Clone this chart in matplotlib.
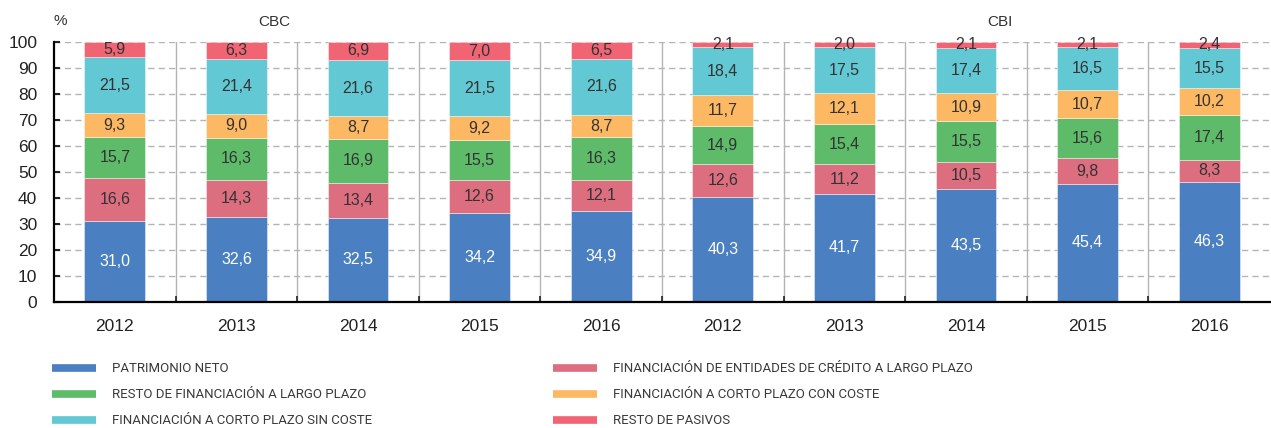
import matplotlib
matplotlib.use("Agg")
import matplotlib.pyplot as plt
from matplotlib import font_manager
from matplotlib.lines import Line2D
import numpy as np

years = ["2012", "2013", "2014", "2015", "2016", "2012", "2013", "2014", "2015", "2016"]
series_names = [
    "PATRIMONIO NETO",
    "FINANCIACIÓN DE ENTIDADES DE CRÉDITO A LARGO PLAZO",
    "RESTO DE FINANCIACIÓN A LARGO PLAZO",
    "FINANCIACIÓN A CORTO PLAZO CON COSTE",
    "FINANCIACIÓN A CORTO PLAZO SIN COSTE",
    "RESTO DE PASIVOS",
]
patrimonio_neto = [31.0, 32.6, 32.5, 34.2, 34.9, 40.3, 41.7, 43.5, 45.4, 46.3]
fin_entidades_lp = [16.6, 14.3, 13.4, 12.6, 12.1, 12.6, 11.2, 10.5, 9.8, 8.3]
resto_fin_lp = [15.7, 16.3, 16.9, 15.5, 16.3, 14.9, 15.4, 15.5, 15.6, 17.4]
fin_cp_con_coste = [9.3, 9.0, 8.7, 9.2, 8.7, 11.7, 12.1, 10.9, 10.7, 10.2]
fin_cp_sin_coste = [21.5, 21.4, 21.6, 21.5, 21.6, 18.4, 17.5, 17.4, 16.5, 15.5]
resto_pasivos = [5.9, 6.3, 6.9, 7.0, 6.5, 2.1, 2.0, 2.1, 2.1, 2.4]
group_labels = ["CBC", "CBI"]
yticks = [0, 10, 20, 30, 40, 50, 60, 70, 80, 90, 100]

series = [patrimonio_neto, fin_entidades_lp, resto_fin_lp, fin_cp_con_coste, fin_cp_sin_coste, resto_pasivos]
colors = ["#4a7fc1", "#dc6e7f", "#5dbb6a", "#fdb863", "#62c8d4", "#f06474"]
text_colors = ["white", "#333333", "#333333", "#333333", "#333333", "#333333"]

avail = {f.name for f in font_manager.fontManager.ttflist}
main_font = "Liberation Sans" if "Liberation Sans" in avail else "DejaVu Sans"
narrow_font = "Roboto" if "Roboto" in avail else main_font
plt.rcParams["font.family"] = [main_font, "DejaVu Sans"]

fig = plt.figure(figsize=(12.71, 4.28), dpi=100)
ax = fig.add_axes([54 / 1271, 1 - 302 / 428, 1216 / 1271, 260 / 428])

x = np.arange(len(years))
ax.set_xlim(-0.5, len(years) - 0.5)
ax.set_ylim(0, 100)

# gridlines
for yv in yticks[1:]:
    ax.axhline(yv, color="#b4b4b4", lw=1, ls=(0, (4.5, 3)), zorder=0)
for sep in np.arange(0.5, len(years) - 0.5, 1):
    ax.axvline(sep, color="#b4b4b4", lw=1, zorder=0)

bottom = np.zeros(len(years))
for vals, col, tcol in zip(series, colors, text_colors):
    vals = np.array(vals)
    ax.bar(x, vals, bottom=bottom, width=0.5, color=col, edgecolor=(1, 1, 1, 0.5), linewidth=0.6, zorder=2)
    for xi, v, b in zip(x, vals, bottom):
        ax.text(xi, b + v / 2, f"{v:.1f}".replace(".", ","), ha="center", va="center",
                fontsize=11.5, color=tcol, zorder=3)
    bottom += vals

for s in ["top", "right"]:
    ax.spines[s].set_visible(False)
ax.spines["left"].set_linewidth(1.6)
ax.spines["bottom"].set_linewidth(1.6)

ax.set_yticks(yticks)
ax.set_yticklabels([str(v) for v in yticks])
ax.tick_params(axis="y", direction="in", length=4, width=1.5, labelsize=12.5, pad=12, colors="#222222")
ax.set_xticks(x)
ax.set_xticklabels(years)
ax.tick_params(axis="x", which="major", length=0, labelsize=12.5, pad=12, colors="#222222")
ax.set_xticks(np.arange(0.5, len(years) - 0.5, 1), minor=True)
ax.tick_params(axis="x", which="minor", direction="in", length=4, width=1.2, color="#222222")

ax.text(0.0, 1.08, "%", transform=ax.transAxes, fontsize=11, color="#333333", ha="left", va="center")
ax.text(1.31, 107.8, group_labels[0], fontsize=11, color="#333333", ha="center", va="center")
ax.text(7.28, 107.8, group_labels[1], fontsize=11, color="#333333", ha="center", va="center")

# legend (column-major: left column entries 0,2,4; right column 1,3,5)
col_x = [52, 553]
row_y = [368, 394, 420]
for i, (name, col) in enumerate(zip(series_names, colors)):
    c = i % 2
    r = i // 2
    x0 = col_x[c] / 1271
    x1 = (col_x[c] + 44) / 1271
    yy = 1 - row_y[r] / 428
    fig.add_artist(Line2D([x0, x1], [yy, yy], color=col, lw=5.5, solid_capstyle="butt",
                          transform=fig.transFigure))
    fig.text((col_x[c] + 60) / 1271, yy, name, fontsize=9.5, color="#3a3a3a",
             ha="left", va="center", family=[narrow_font, "DejaVu Sans"])

fig.savefig("out.png", dpi=100)
